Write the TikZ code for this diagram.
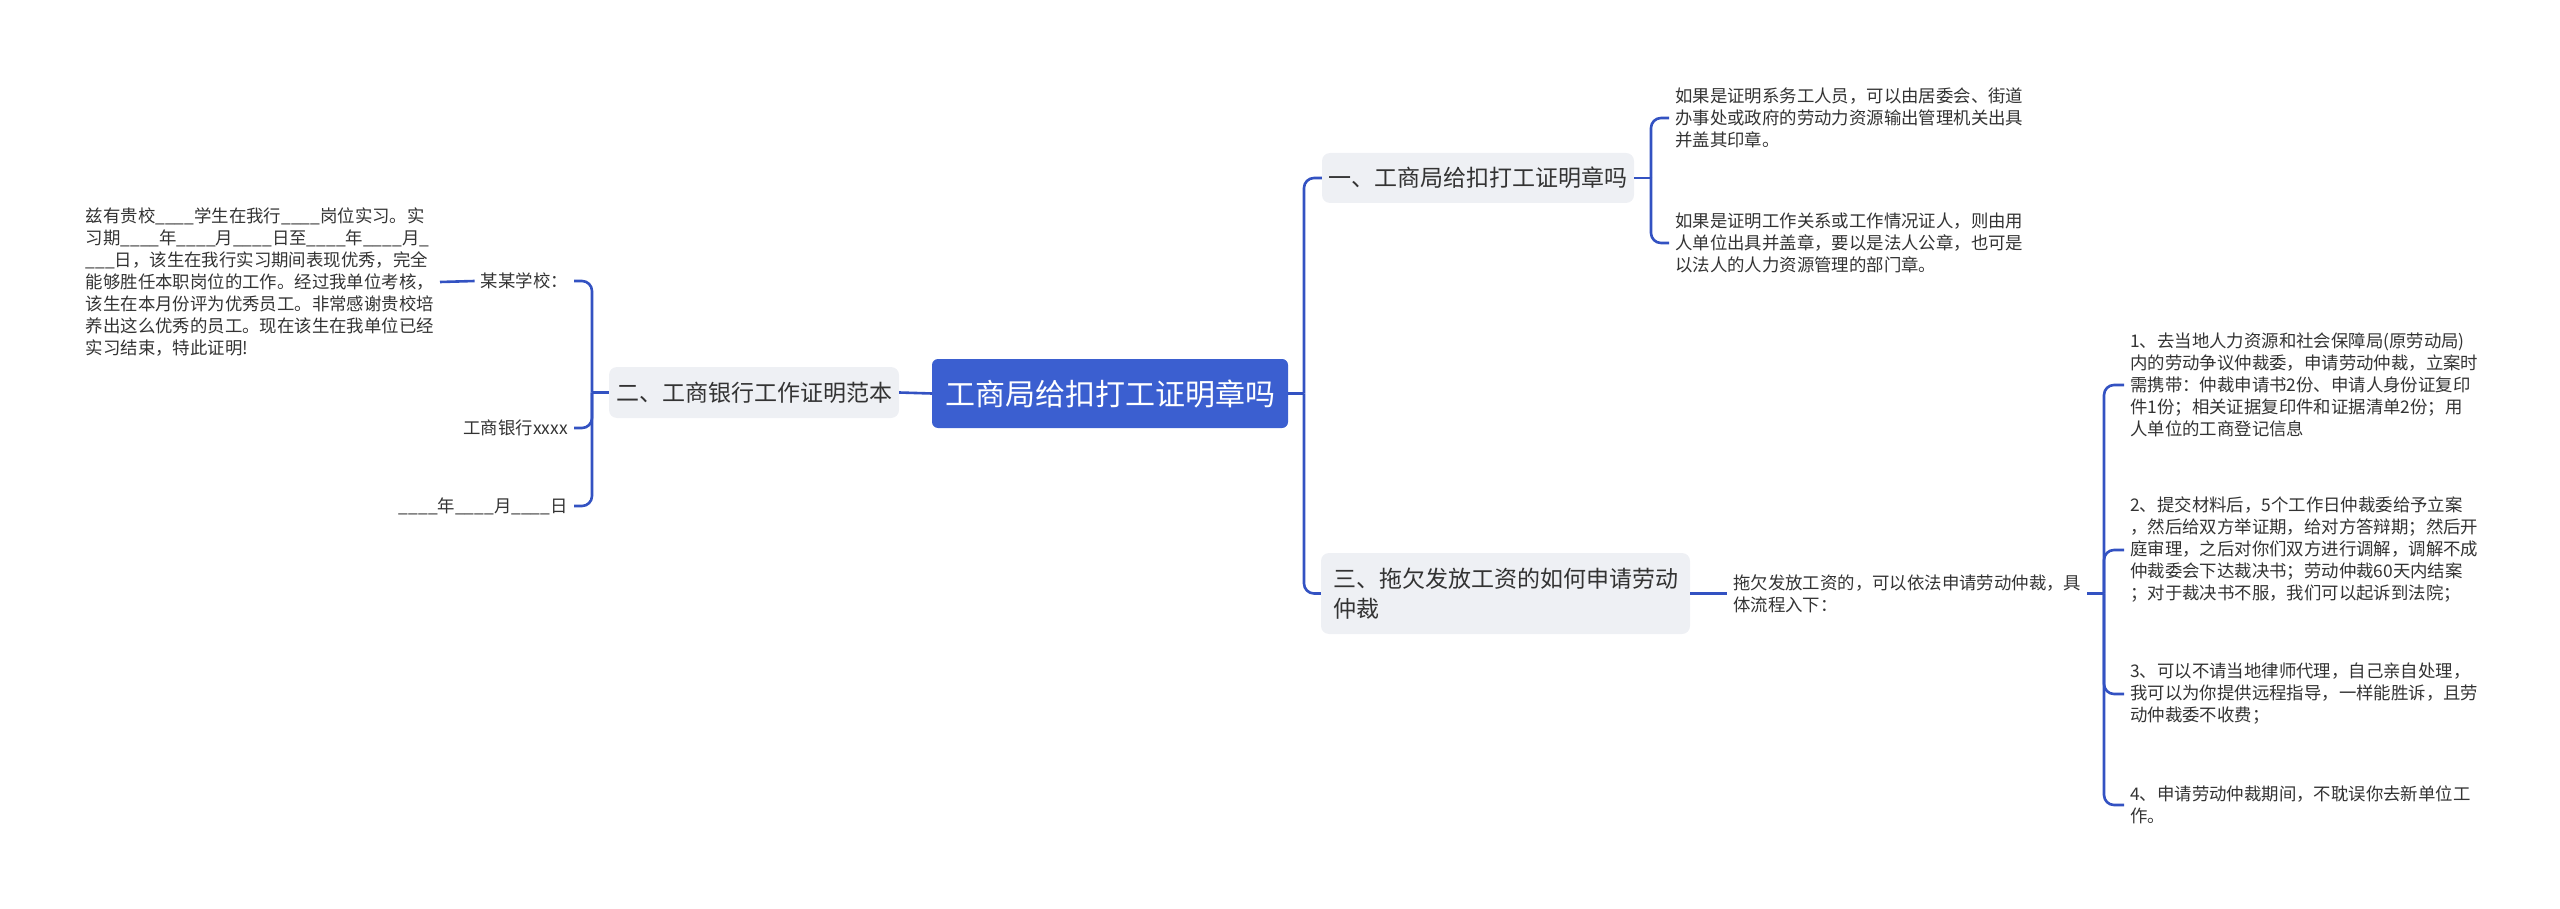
\documentclass[tikz,border=0pt]{standalone}
\usepackage{fontspec}
\newfontfamily\cjk{Noto Sans CJK SC}
\definecolor{lnblue}{HTML}{3352C2}
\definecolor{rootblue}{HTML}{3B5FD0}
\definecolor{boxgray}{HTML}{EEF0F4}
\definecolor{txt}{HTML}{333333}
\tikzset{
  conn/.style={draw=lnblue, line width=2.6pt, rounded corners=10pt},
  rootbox/.style={fill=rootblue, rounded corners=6pt, text=white, font=\cjk\fontsize{30}{36}\selectfont, minimum width=356pt, minimum height=69pt, inner sep=0pt},
  branch/.style={fill=boxgray, rounded corners=8pt, text=txt, font=\cjk\fontsize{23}{30}\selectfont, inner sep=0pt, align=left},
  leaf/.style={text=txt, font=\cjk\fontsize{17.4}{22}\selectfont, align=left, inner xsep=6pt, inner ysep=3pt},
  para/.style={text=txt, font=\cjk\fontsize{17.4}{22}\selectfont, align=left, inner xsep=6pt, inner ysep=3pt}
}
\begin{document}
\begin{tikzpicture}[x=1pt,y=-1pt]
\useasboundingbox (0,0) rectangle (2560,909);
% root and branches
\node[rootbox] (root) at (1110,393.5) {工商局给扣打工证明章吗};
\node[branch, minimum width=312pt, minimum height=50pt] (b1) at (1478,178) {一、工商局给扣打工证明章吗};
\node[branch, minimum width=290pt, minimum height=51pt] (b2) at (754,392.5) {二、工商银行工作证明范本};
\node[branch, minimum width=369pt, minimum height=81pt] (b3) at (1505.5,593.5) {三、拖欠发放工资的如何申请劳动\\仲裁};
% branch 1 leaves
\node[leaf, anchor=west] (a1) at (1669,118) {如果是证明系务工人员，可以由居委会、街道\\办事处或政府的劳动力资源输出管理机关出具\\并盖其印章。};
\node[leaf, anchor=west] (a2) at (1669,243) {如果是证明工作关系或工作情况证人，则由用\\人单位出具并盖章，要以是法人公章，也可是\\以法人的人力资源管理的部门章。};
% branch 3 leaves
\node[leaf, anchor=west] (t3) at (1727,593.5) {拖欠发放工资的，可以依法申请劳动仲裁，具\\体流程入下：};
\node[leaf, anchor=west] (c1) at (2124,385) {1、去当地人力资源和社会保障局(原劳动局)\\内的劳动争议仲裁委，申请劳动仲裁，立案时\\需携带：仲裁申请书2份、申请人身份证复印\\件1份；相关证据复印件和证据清单2份；用\\人单位的工商登记信息};
\node[leaf, anchor=west] (c2) at (2124,550) {2、提交材料后，5个工作日仲裁委给予立案\\，然后给双方举证期，给对方答辩期；然后开\\庭审理，之后对你们双方进行调解，调解不成\\仲裁委会下达裁决书；劳动仲裁60天内结案\\；对于裁决书不服，我们可以起诉到法院；};
\node[leaf, anchor=west] (c3) at (2124,694) {3、可以不请当地律师代理，自己亲自处理，\\我可以为你提供远程指导，一样能胜诉，且劳\\动仲裁委不收费；};
\node[leaf, anchor=west] (c4) at (2124,805) {4、申请劳动仲裁期间，不耽误你去新单位工\\作。};
% branch 2 leaves
\node[leaf, anchor=east] (s1) at (574,281) {某某学校：};
\node[leaf, anchor=east] (s2) at (574,428) {工商银行xxxx};
\node[leaf, anchor=east] (s3) at (574,506) {\_\_\_\_年\_\_\_\_月\_\_\_\_日};
\node[para, anchor=east] (P) at (440,282) {兹有贵校\_\_\_\_学生在我行\_\_\_\_岗位实习。实\\习期\_\_\_\_年\_\_\_\_月\_\_\_\_日至\_\_\_\_年\_\_\_\_月\_\\\_\_\_日，该生在我行实习期间表现优秀，完全\\能够胜任本职岗位的工作。经过我单位考核，\\该生在本月份评为优秀员工。非常感谢贵校培\\养出这么优秀的员工。现在该生在我单位已经\\实习结束，特此证明!};
% junctions
\coordinate (j0) at (1304,393.5);
\coordinate (j1) at (1651,178);
\coordinate (j2) at (592,392.5);
\coordinate (j3) at (2104,593.5);
% connectors
\draw[conn] (root.east) -- (j0);
\draw[conn] (j0) |- (b1.west);
\draw[conn] (j0) |- (b3.west);
\draw[conn] (b1.east) -- (j1);
\draw[conn] (j1) |- (a1.west);
\draw[conn] (j1) |- (a2.west);
\draw[conn] (b3.east) -- (t3.west);
\draw[conn] (t3.east) -- (j3);
\draw[conn] (j3) |- (c1.west);
\draw[conn] (j3) |- (c2.west);
\draw[conn] (j3) |- (c3.west);
\draw[conn] (j3) |- (c4.west);
\draw[conn] (root.west) -- (b2.east);
\draw[conn] (b2.west) -- (j2);
\draw[conn] (j2) |- (s1.east);
\draw[conn] (j2) |- (s2.east);
\draw[conn] (j2) |- (s3.east);
\draw[conn] (P.east) -- (s1.west);
\end{tikzpicture}
\end{document}
